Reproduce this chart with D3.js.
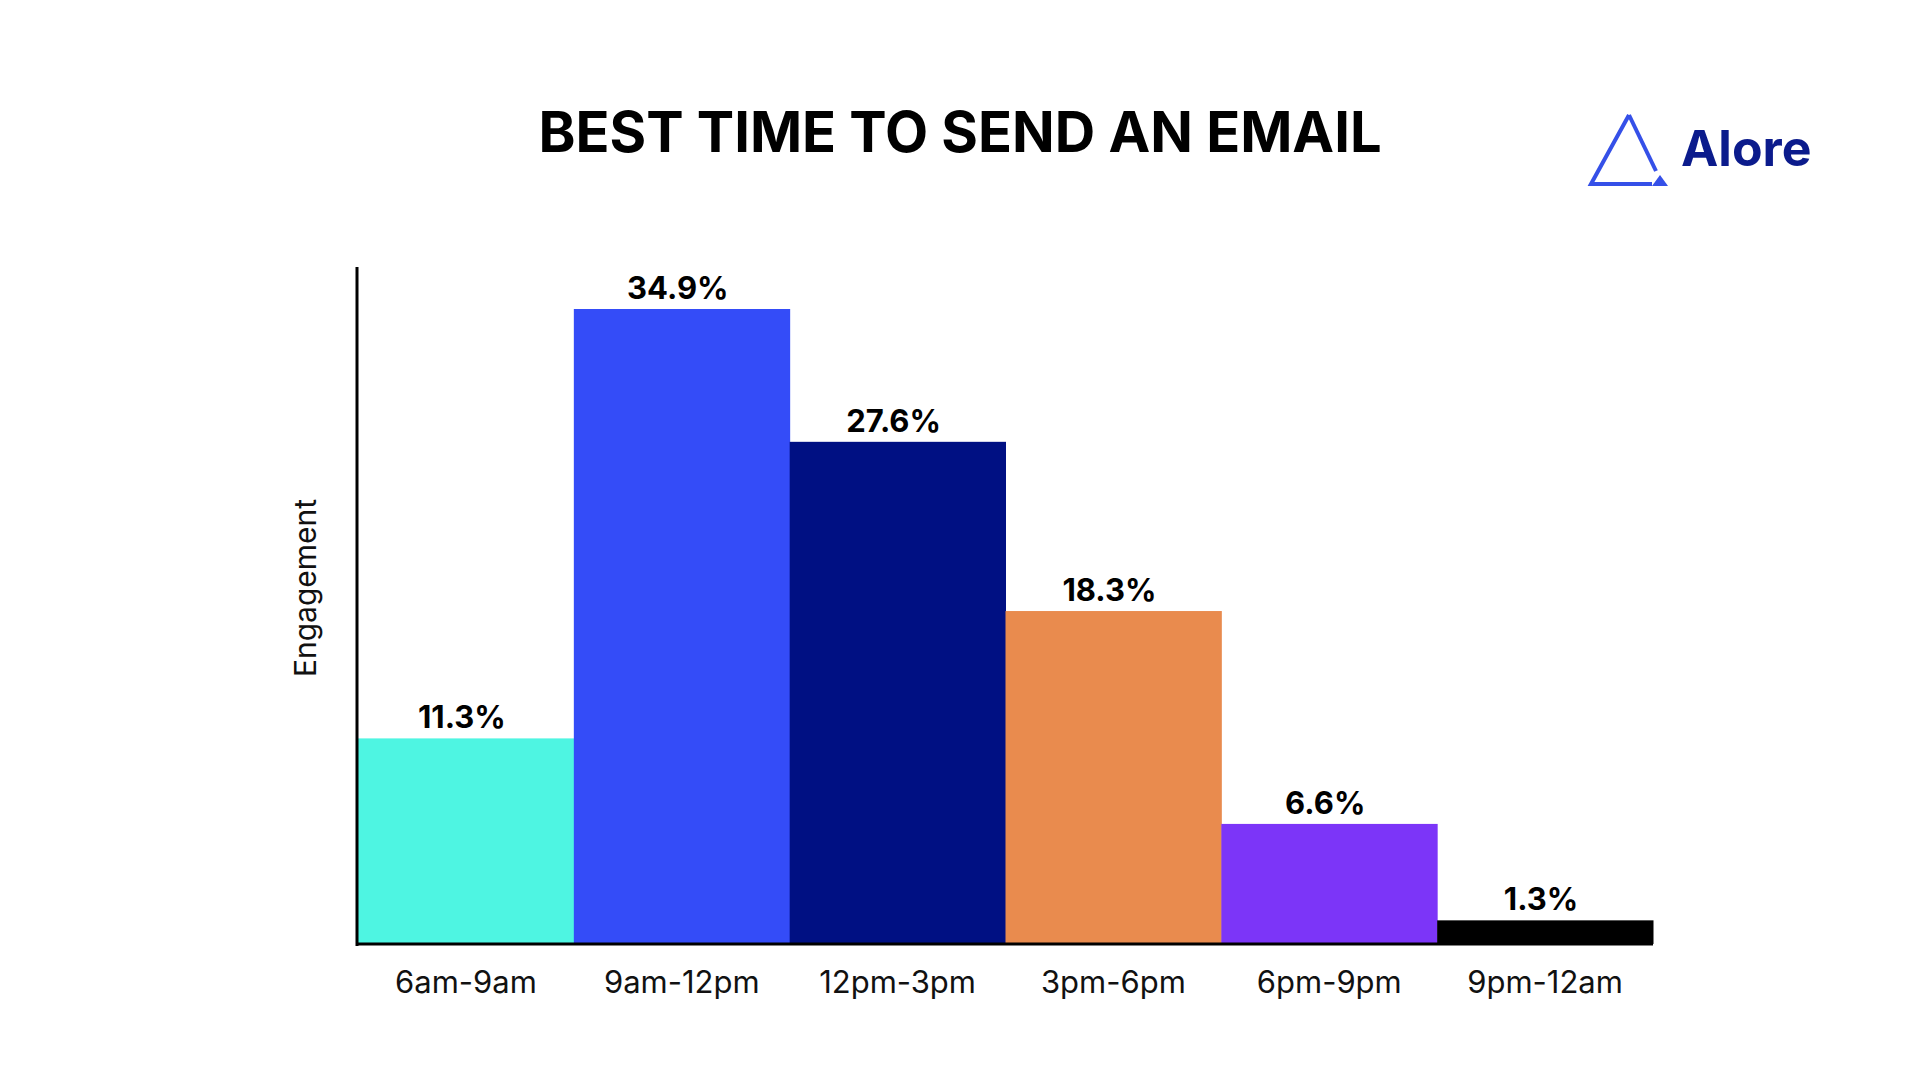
<!DOCTYPE html><html><head><meta charset="utf-8"><script src="https://cdn.jsdelivr.net/npm/d3@7"></script>
<style>body{margin:0;background:#fff}</style></head><body><svg id="c" width="1920" height="1080"></svg>
<script>
const categories=["6am-9am","9am-12pm","12pm-3pm","3pm-6pm","6pm-9pm","9pm-12am"];
const values=[11.3,34.9,27.6,18.3,6.6,1.3];
const colors=["#4ef5e2","#344cf8","#001083","#e98b4e","#7c35f8","#000000"];
const svg=d3.select("#c"),F="Inter, 'Open Sans', sans-serif";
const x=d3.scaleBand().domain(categories).range([358,1653]).padding(0);
const y=d3.scaleLinear().domain([0,34.9]).range([944,309]);
svg.append("text").attr("x",960).attr("y",152).attr("text-anchor","middle").attr("font-family",F).attr("font-weight",700).attr("font-size",56).attr("fill","#000").text("BEST TIME TO SEND AN EMAIL");
svg.selectAll("rect.b").data(values).join("rect").attr("x",(d,i)=>x(categories[i])).attr("width",x.bandwidth()+0.5).attr("y",d=>y(d)).attr("height",d=>y(0)-y(d)).attr("fill",(d,i)=>colors[i]);
svg.selectAll("text.v").data(values).join("text").attr("x",(d,i)=>x(categories[i])+x.bandwidth()/2-4).attr("y",d=>y(d)-10).attr("text-anchor","middle").attr("font-family",F).attr("font-weight",700).attr("font-size",31).text(d=>d+"%");
const ax=svg.append("g").attr("transform","translate(0,944)").call(d3.axisBottom(x).tickSize(0).tickPadding(27));
ax.select(".domain").attr("stroke","#000").attr("stroke-width",3).attr("d","M356,0H1653");
ax.selectAll("text").attr("font-family",F).attr("font-size",31).attr("fill","#111");
svg.append("line").attr("x1",357).attr("x2",357).attr("y1",267).attr("y2",946).attr("stroke","#000").attr("stroke-width",3);
svg.append("text").attr("transform","translate(316,588) rotate(-90)").attr("text-anchor","middle").attr("font-family",F).attr("font-size",30).attr("fill","#111").text("Engagement");
const lg=svg.append("g");
lg.append("path").attr("d","M1629,115 L1591,184 L1652,184").attr("fill","none").attr("stroke","#3550e8").attr("stroke-width",4).attr("stroke-linejoin","miter");
lg.append("path").attr("d","M1629,115 L1656,171").attr("fill","none").attr("stroke","#3550e8").attr("stroke-width",4);
lg.append("path").attr("d","M1660,175 L1652,186 L1668,186 Z").attr("fill","#3550e8");
lg.append("text").attr("x",1681).attr("y",166).attr("font-family",F).attr("font-weight",700).attr("font-size",50).attr("fill","#0b1b8c").text("Alore");
</script></body></html>
